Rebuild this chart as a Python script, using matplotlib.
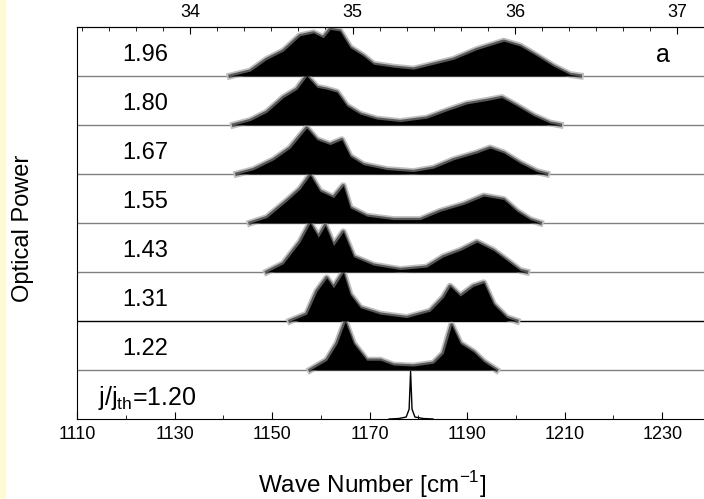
import matplotlib
matplotlib.use("Agg")
import numpy as np
from matplotlib import pyplot as plt
from matplotlib.ticker import AutoMinorLocator

plt.rcParams['font.family'] = ['Liberation Sans', 'DejaVu Sans']
plt.rcParams['mathtext.fontset'] = 'custom'
plt.rcParams['mathtext.rm'] = 'Liberation Sans'

# current ratios j/j_th, top row first
ratios = ["1.96", "1.80", "1.67", "1.55", "1.43", "1.31", "1.22", "1.20"]

# upper envelope of each spectrum (wave number, power as fraction of row height)
wn_196 = [1141.4, 1145.5, 1148.9, 1152.3, 1155.7, 1158.5, 1160.5, 1161.9, 1163.9, 1166.0, 1168.7,
          1170.8, 1174.9, 1179.0, 1183.1, 1187.2, 1192.0, 1197.5, 1200.9, 1204.3, 1207.7, 1211.1, 1213.2]
pw_196 = [0.0, 0.10, 0.34, 0.51, 0.82, 0.88, 0.78, 0.95, 0.92, 0.58, 0.41,
          0.24, 0.18, 0.14, 0.24, 0.34, 0.54, 0.71, 0.61, 0.41, 0.20, 0.03, 0.0]

wn_180 = [1142.1, 1145.5, 1148.9, 1152.3, 1155.1, 1157.1, 1159.2, 1161.2, 1163.3, 1165.3, 1168.1,
          1171.5, 1176.3, 1181.7, 1185.8, 1189.9, 1194.0, 1197.1, 1200.2, 1203.6, 1207.0, 1209.1]
pw_180 = [0.0, 0.09, 0.26, 0.56, 0.73, 1.0, 0.77, 0.73, 0.67, 0.39, 0.22,
          0.12, 0.07, 0.14, 0.29, 0.43, 0.50, 0.56, 0.39, 0.19, 0.04, 0.0]

wn_167 = [1142.8, 1146.2, 1150.3, 1153.7, 1157.1, 1159.2, 1161.9, 1164.3, 1166.0, 1168.7,
          1173.5, 1179.0, 1183.1, 1187.2, 1192.0, 1194.7, 1197.5, 1200.9, 1204.3, 1206.3]
pw_167 = [0.0, 0.09, 0.29, 0.53, 0.94, 0.70, 0.60, 0.70, 0.36, 0.19,
          0.09, 0.05, 0.12, 0.29, 0.43, 0.53, 0.43, 0.22, 0.05, 0.0]

wn_155 = [1145.5, 1148.9, 1153.0, 1155.7, 1157.8, 1159.8, 1162.6, 1164.6, 1166.0, 1169.4,
          1174.9, 1180.4, 1184.5, 1189.3, 1193.4, 1197.5, 1200.2, 1202.9, 1205.0]
pw_155 = [0.0, 0.11, 0.45, 0.69, 0.98, 0.65, 0.52, 0.76, 0.31, 0.14,
          0.07, 0.07, 0.24, 0.38, 0.55, 0.48, 0.24, 0.07, 0.0]

wn_143 = [1148.9, 1152.3, 1155.7, 1157.8, 1159.5, 1160.9, 1162.6, 1164.6, 1166.7, 1170.8,
          1176.3, 1181.7, 1185.1, 1188.6, 1192.0, 1195.4, 1198.1, 1200.9, 1202.2]
pw_143 = [0.0, 0.17, 0.61, 1.0, 0.71, 0.95, 0.54, 0.82, 0.31, 0.14,
          0.05, 0.10, 0.31, 0.44, 0.61, 0.44, 0.24, 0.03, 0.0]

wn_131 = [1153.7, 1157.1, 1159.2, 1161.2, 1162.6, 1164.6, 1166.0, 1168.1, 1172.2, 1177.6,
          1182.4, 1185.1, 1186.5, 1188.6, 1191.3, 1193.4, 1195.4, 1198.1, 1200.2]
pw_131 = [0.0, 0.14, 0.61, 0.88, 0.68, 0.99, 0.54, 0.27, 0.14, 0.07,
          0.20, 0.48, 0.71, 0.51, 0.71, 0.78, 0.34, 0.07, 0.0]

wn_122 = [1157.8, 1161.2, 1163.3, 1165.0, 1166.7, 1169.4, 1172.2, 1174.9, 1179.0,
          1183.1, 1185.1, 1186.8, 1188.6, 1191.3, 1193.4, 1196.0]
pw_122 = [0.0, 0.20, 0.54, 0.99, 0.54, 0.20, 0.20, 0.10, 0.08,
          0.14, 0.34, 0.92, 0.54, 0.37, 0.17, 0.0]

wn_120 = [1174.0, 1176.0, 1177.5, 1178.1, 1178.4, 1178.7, 1179.3, 1181.0, 1183.0]
pw_120 = [0.0, 0.01, 0.04, 0.20, 0.97, 0.20, 0.04, 0.01, 0.0]

spectra = [(wn_196, pw_196), (wn_180, pw_180), (wn_167, pw_167), (wn_155, pw_155),
           (wn_143, pw_143), (wn_131, pw_131), (wn_122, pw_122), (wn_120, pw_120)]

bottom_ticks = [1110, 1130, 1150, 1170, 1190, 1210, 1230]
top_ticks = [34, 35, 36, 37]


def to_thz(w):
    return 34 + (np.asarray(w) - 1133.2) / 33.3


def to_wn(t):
    return 1133.2 + (np.asarray(t) - 34) * 33.3


fig = plt.figure(figsize=(7.04, 4.99), dpi=100)
fig.patches.append(plt.Rectangle((0, 0), 5 / 704, 1, transform=fig.transFigure,
                                 color='#fdfbd3', zorder=0))
ax = fig.add_axes([77 / 704, 80 / 499, 634 / 704, 392 / 499])

n = len(ratios)
for i, (label, (wn, pw)) in enumerate(zip(ratios, spectra)):
    off = n - 1 - i
    if off > 0:
        ax.axhline(off, color='black' if off == 2 else '0.5', lw=1.0, zorder=1)
    top = off + np.array(pw)
    if i < n - 1:
        # soft grey fringe round the dense mode comb
        ax.plot(wn, top, color='0.75', lw=5.0, zorder=2, solid_joinstyle='round')
        ax.plot(wn, top, color='0.35', lw=2.5, zorder=2, solid_joinstyle='round')
        ax.fill_between(wn, off, top, color='black', lw=0, zorder=3)
    else:
        ax.plot(wn, top, color='black', lw=1.0, zorder=3)
    if label == "1.20":
        txt = r"j/j$_\mathregular{th}$=1.20"
        ax.text(1114.3, off + 0.42, txt, fontsize=18, va='center', ha='left')
    else:
        ax.text(1119.2, off + 0.42, label, fontsize=17, va='center', ha='left')

ax.text(1230.2, 7.42, "a", fontsize=18, va='center', ha='center')

ax.set_xlim(1110, 1240)
ax.set_ylim(0, n)
ax.set_yticks([])
ax.spines['right'].set_visible(False)
ax.set_xticks(bottom_ticks)
ax.set_xticks([t + 10 for t in bottom_ticks], minor=True)
ax.tick_params(axis='x', which='major', direction='in', length=5, labelsize=13, pad=5)
ax.tick_params(axis='x', which='minor', direction='in', length=3)

sec = ax.secondary_xaxis('top', functions=(to_thz, to_wn))
sec.set_xticks(top_ticks)
sec.xaxis.set_minor_locator(AutoMinorLocator(6))
sec.tick_params(axis='x', which='major', direction='in', length=5, labelsize=13, pad=4)
sec.tick_params(axis='x', which='minor', direction='in', length=3)

fig.text(372 / 704, 1 - 485 / 499, r"Wave Number [cm$^\mathregular{-1}$]", fontsize=17.5,
         ha='center', va='center')
fig.text(23 / 704, 1 - 228 / 499, "Optical Power", fontsize=17, rotation=90,
         ha='center', va='center')

fig.savefig("out.png", dpi=100)
